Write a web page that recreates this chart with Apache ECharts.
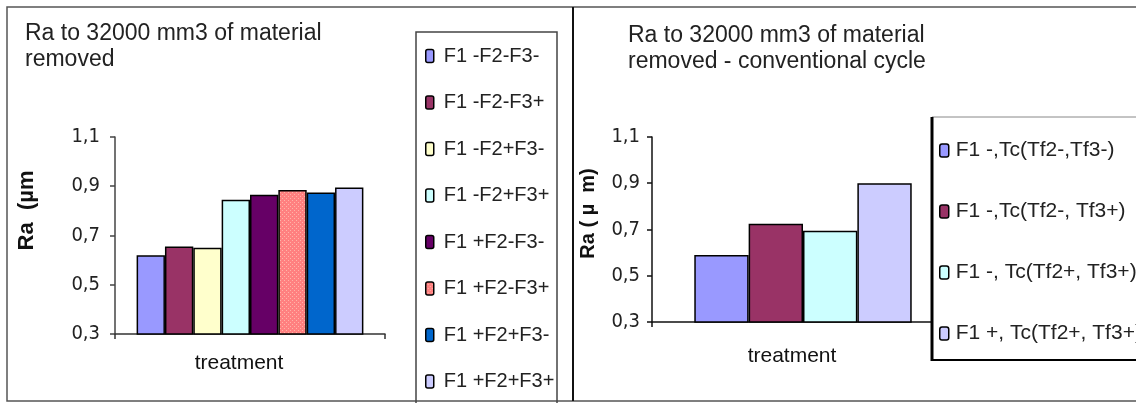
<!DOCTYPE html>
<html><head><meta charset="utf-8">
<script src="https://cdn.jsdelivr.net/npm/echarts@6/dist/echarts.min.js"></script>
<style>html,body{margin:0;padding:0;background:#fff}#c{width:1136px;height:403px}</style>
</head><body><div id="c"></div>
<script>
// ---- data ----
const categories = [''];
const leftNames = ['F1 -F2-F3-', 'F1 -F2-F3+', 'F1 -F2+F3-', 'F1 -F2+F3+', 'F1 +F2-F3-', 'F1 +F2-F3+', 'F1 +F2+F3-', 'F1 +F2+F3+'];
const leftValues = [0.62, 0.655, 0.65, 0.845, 0.865, 0.885, 0.875, 0.895];
const rightNames = ['F1 -,Tc(Tf2-,Tf3-)', 'F1 -,Tc(Tf2-, Tf3+)', 'F1 -, Tc(Tf2+, Tf3+)', 'F1 +, Tc(Tf2+, Tf3+)'];
const rightValues = [0.59, 0.725, 0.695, 0.9];
const yTicks = [0.3, 0.5, 0.7, 0.9, 1.1];

// ---- styles ----
function dotPattern() {
  const c = document.createElement('canvas'); c.width = 4; c.height = 4;
  const g = c.getContext('2d');
  g.fillStyle = '#FF8080'; g.fillRect(0, 0, 4, 4);
  g.fillStyle = '#FFB4A8'; g.fillRect(0, 0, 1, 1); g.fillRect(2, 2, 1, 1);
  return { image: c, repeat: 'repeat' };
}
const leftColors = ['#9999FF', '#993366', '#FFFFCC', '#CCFFFF', '#660066', dotPattern(), '#0066CC', '#CCCCFF'];
const rightColors = ['#9999FF', '#993366', '#CCFFFF', '#CCCCFF'];
const narrow = "'DejaVu Sans Condensed', 'Liberation Sans', sans-serif";
const sans = "'Liberation Sans', Arial, sans-serif";

function yAxis(gridIndex, name, nameGap, margin, lineColor, nameSize, shiftUp) {
  return {
    type: 'value', gridIndex, min: yTicks[0], max: yTicks[yTicks.length - 1], interval: 0.2,
    name, nameLocation: 'middle', nameGap,
    nameTextStyle: { fontFamily: sans, fontWeight: 'bold', fontSize: nameSize, color: '#111',
      padding: [0, 0, 0, shiftUp * 2] },
    axisLine: { show: true, lineStyle: { color: lineColor, width: 1.5 } },
    axisTick: { show: true, length: 5, lineStyle: { color: lineColor, width: 1.5 } },
    splitLine: { show: false },
    axisLabel: { margin, fontFamily: narrow, fontSize: 20, color: '#222',
      formatter: v => v.toFixed(1).replace('.', ',') }
  };
}
function xAxis(gridIndex, nameGap, lineColor) {
  return {
    type: 'category', gridIndex, data: categories,
    name: 'treatment', nameLocation: 'middle', nameGap,
    nameTextStyle: { fontFamily: sans, fontSize: 21, color: '#111', padding: [0, 22, 0, 0] },
    axisLine: { show: true, lineStyle: { color: lineColor, width: 1.5 } },
    axisTick: { show: true, length: 5, lineStyle: { color: lineColor, width: 1.5 } },
    axisLabel: { show: false }
  };
}

const series = [];
leftNames.forEach((n, i) => series.push({
  type: 'bar', name: n, xAxisIndex: 0, yAxisIndex: 0, data: [leftValues[i]],
  barGap: '0%', barCategoryGap: '16%',
  itemStyle: { color: leftColors[i], borderColor: '#000', borderWidth: 1.5 }
}));
rightNames.forEach((n, i) => series.push({
  type: 'bar', name: n, xAxisIndex: 1, yAxisIndex: 1, data: [rightValues[i]],
  barGap: '0%', barCategoryGap: '28%',
  itemStyle: { color: rightColors[i], borderColor: '#000', borderWidth: 1.5 }
}));

const chart = echarts.init(document.getElementById('c'), null, { renderer: 'canvas' });
chart.setOption({
  backgroundColor: '#fff',
  animation: false,
  title: [
    { text: 'Ra to 32000 mm3 of material\nremoved', left: 25, top: 21, padding: 0,
      textStyle: { fontFamily: sans, fontSize: 23, fontWeight: 'normal', color: '#222', lineHeight: 26 } },
    { text: 'Ra to 32000 mm3 of material\nremoved - conventional cycle', left: 628, top: 23, padding: 0,
      textStyle: { fontFamily: sans, fontSize: 23, fontWeight: 'normal', color: '#222', lineHeight: 26 } }
  ],
  grid: [
    { left: 115, right: 751, top: 137, bottom: 69 },
    { left: 652, right: 182, top: 137, bottom: 81 }
  ],
  xAxis: [xAxis(0, 19, '#333'), xAxis(1, 24, '#111')],
  yAxis: [
    yAxis(0, 'Ra  (µm', 77, 15, '#444', 22, 25),
    yAxis(1, 'Ra ( µ  m)', 54, 12, '#111', 20, 16)
  ],
  legend: [
    { data: leftNames, orient: 'vertical', left: 425, top: 46, padding: 0, itemGap: 26.5,
      itemWidth: 8, itemHeight: 13, z: 100, selectedMode: false,
      itemStyle: { borderColor: '#000', borderWidth: 1.5 },
      textStyle: { fontFamily: sans, fontSize: 20, color: '#222', padding: [0, 0, 0, 5] } },
    { data: rightNames, orient: 'vertical', left: 939, top: 140, padding: 0, itemGap: 40,
      itemWidth: 9, itemHeight: 13, z: 100, selectedMode: false,
      itemStyle: { borderColor: '#000', borderWidth: 1.5 },
      textStyle: { fontFamily: sans, fontSize: 21, color: '#222', padding: [0, 0, 0, 2] } }
  ],
  graphic: [
    { type: 'rect', z: 50, shape: { x: 7, y: 7, width: 1140, height: 394 },
      style: { fill: 'none', stroke: '#555', lineWidth: 1.5 } },
    { type: 'line', z: 50, shape: { x1: 573, y1: 7, x2: 573, y2: 401 },
      style: { stroke: '#111', lineWidth: 2 } },
    { type: 'rect', z: 50, shape: { x: 416, y: 32, width: 141, height: 380 },
      style: { fill: 'none', stroke: '#444', lineWidth: 1.5 } },
    { type: 'rect', z: 50, shape: { x: 932, y: 117, width: 220, height: 243 },
      style: { fill: '#fff', stroke: '#888', lineWidth: 1 } },
    { type: 'line', z: 51, shape: { x1: 932, y1: 117, x2: 932, y2: 361 },
      style: { stroke: '#000', lineWidth: 3 } },
    { type: 'line', z: 51, shape: { x1: 932, y1: 360, x2: 1140, y2: 360 },
      style: { stroke: '#000', lineWidth: 2 } }
  ],
  series
});
</script>
</body></html>
